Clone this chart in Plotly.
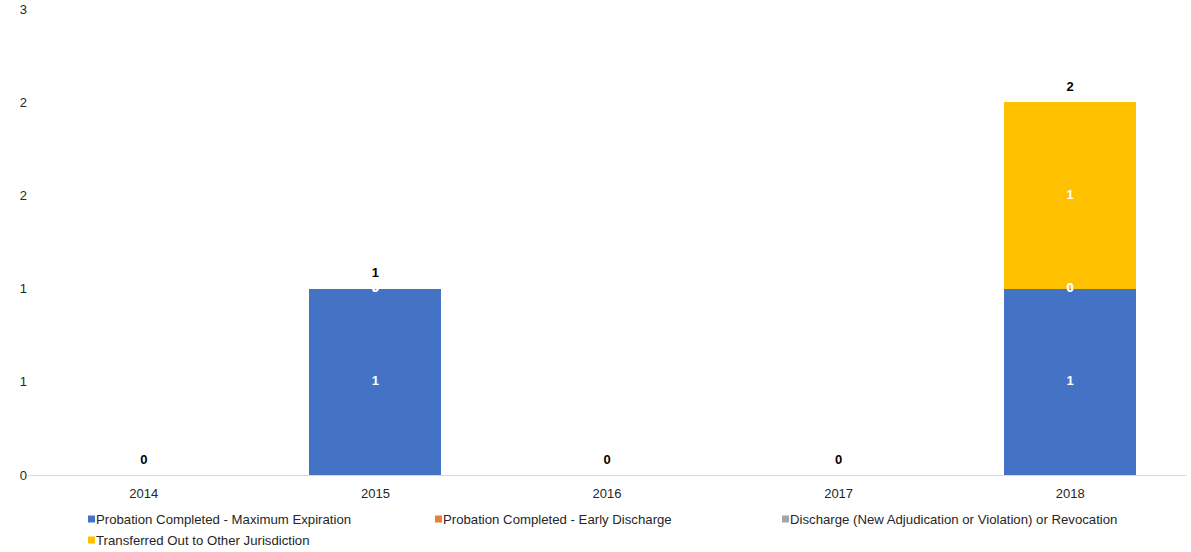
import plotly.graph_objects as go

years = ["2014", "2015", "2016", "2017", "2018"]
series_names = [
    "Probation Completed - Maximum Expiration",
    "Probation Completed - Early Discharge",
    "Discharge (New Adjudication or Violation) or Revocation",
    "Transferred Out to Other Jurisdiction",
]
max_expiration = [0, 1, 0, 0, 1]
early_discharge = [0, 0, 0, 0, 0]
discharge_revocation = [0, 0, 0, 0, 0]
transferred_out = [0, 0, 0, 0, 1]
colors = ["#4472C4", "#ED7D31", "#A5A5A5", "#FFC000"]

series_values = [max_expiration, early_discharge, discharge_revocation, transferred_out]
FONT = "Liberation Sans, Arial, sans-serif"
TXT = "#262626"

W, H = 1191, 552
ML, MR, MT, MB = 28, 5, 9, 77
PW, PH = W - ML - MR, H - MT - MB

fig = go.Figure()
for name, vals, col in zip(series_names, series_values, colors):
    fig.add_trace(go.Bar(x=years, y=vals, name=name, marker=dict(color=col, line=dict(width=0)),
                         showlegend=False))

# segment labels (white) at the middle of each segment
base = [0] * len(years)
for vals in series_values:
    mids = [b + v / 2 for b, v in zip(base, vals)]
    fig.add_trace(go.Scatter(
        x=years, y=mids, mode="text", text=[str(v) for v in vals],
        textposition="middle center",
        textfont=dict(color="white", size=13, family=FONT, weight="bold"),
        showlegend=False, hoverinfo="skip", cliponaxis=False,
    ))
    base = [b + v for b, v in zip(base, vals)]

totals = base
fig.add_trace(go.Scatter(
    x=years, y=totals, mode="markers+text", text=[str(t) for t in totals],
    textposition="top center", marker=dict(size=11, opacity=0),
    textfont=dict(color="black", size=13, family=FONT, weight="bold"),
    showlegend=False, hoverinfo="skip", cliponaxis=False,
))

# custom legend (3 entries per row)
for i, (name, col) in enumerate(zip(series_names, colors)):
    c, r = i % 3, i // 3
    sx = 88 + c * 347
    sy = 519 + r * 21
    x0 = (sx - ML) / PW
    x1 = (sx + 7 - ML) / PW
    y0 = (H - MB - (sy + 3.5)) / PH
    y1 = (H - MB - (sy - 3.5)) / PH
    fig.add_shape(type="rect", xref="paper", yref="paper", x0=x0, x1=x1, y0=y0, y1=y1,
                  fillcolor=col, line=dict(width=0))
    fig.add_annotation(xref="paper", yref="paper", x=(sx + 7 - ML) / PW,
                       y=(H - MB - sy) / PH, text=name, showarrow=False,
                       xanchor="left", yanchor="middle", borderpad=0,
                       font=dict(size=13.2, color=TXT, family=FONT))

fig.update_layout(
    width=W, height=H,
    barmode="stack", bargap=0.43,
    paper_bgcolor="white", plot_bgcolor="white",
    margin=dict(l=ML, r=MR, t=MT, b=MB, autoexpand=False),
    font=dict(family=FONT, size=13, color=TXT),
    xaxis=dict(type="category", range=[-0.5, 4.5], showline=True, linecolor="#D9D9D9",
               linewidth=1, showgrid=False, ticks="", automargin=False, ticklabelstandoff=6,
               tickfont=dict(size=13, color=TXT)),
    yaxis=dict(range=[0, 2.5], dtick=0.5, tick0=0, tickformat=".0f",
               showgrid=False, zeroline=False, showline=False, ticks="", automargin=False,
               tickfont=dict(size=13, color=TXT)),
    showlegend=False,
)

fig.write_html("out.html", config={"displayModeBar": False},
               post_script="document.body.style.margin='0';document.body.style.overflow='hidden';")
